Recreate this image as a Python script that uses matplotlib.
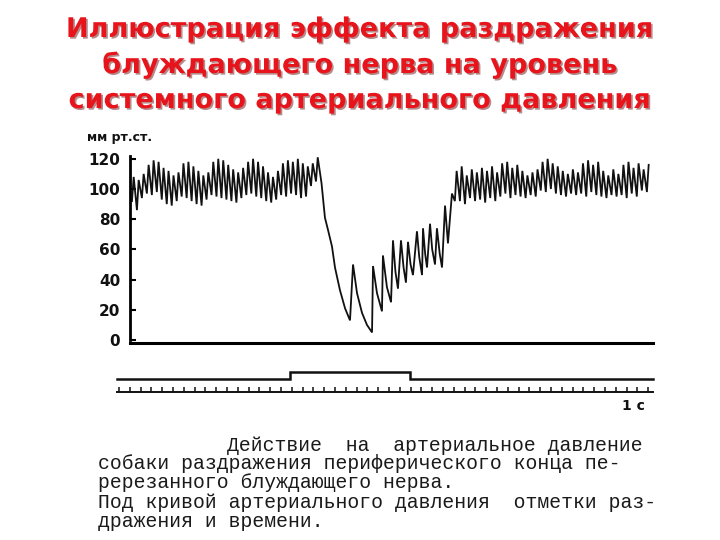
import numpy as np
import matplotlib
matplotlib.use("Agg")
import matplotlib.pyplot as plt
import matplotlib.patheffects as pe

# ---------------- data ----------------
# time in seconds (1 time mark = 1 s), pressure in mm Hg
title_lines = ["Иллюстрация эффекта раздражения",
               "блуждающего нерва на уровень",
               "системного артериального давления"]
y_label = "мм рт.ст."
ytick_vals = [0, 20, 40, 60, 80, 100, 120]

# before stimulation: pulse waves (peak / trough of each beat)
seg1_start, seg1_end = 1.2, 18.7
seg1_peaks = [108, 106, 110, 116, 119, 118, 114, 112, 109, 111,
              117, 118, 115, 112, 109, 111, 118, 120, 119, 116,
              113, 111, 114, 118, 120, 118, 115, 111, 108, 112,
              117, 119, 118, 120, 117, 115, 117, 121]
seg1_troughs = [92, 86, 94, 97, 96, 98, 93, 90, 89, 92,
                95, 94, 92, 90, 89, 93, 96, 95, 94, 93,
                92, 91, 94, 96, 97, 95, 94, 92, 91, 93,
                96, 95, 97, 96, 94, 95, 102, 105]

# fall during vagal stimulation and recovery (time, pressure)
fall_t = [18.75, 18.95, 19.07, 19.35, 19.72, 20.00, 20.46, 20.93, 21.39,
          21.67, 22.04, 22.50, 22.96, 23.43,
          23.52, 23.89, 24.35,
          24.44, 24.81, 25.19,
          25.37, 25.60, 25.83,
          26.11, 26.35, 26.57,
          26.76, 27.00, 27.22,
          27.59, 27.80, 28.06,
          28.15, 28.35, 28.52,
          28.80, 29.00, 29.26,
          29.44, 29.70, 29.91,
          30.19, 30.46, 30.83]
fall_v = [104, 90, 81, 73, 62, 48, 33, 21, 13,
          50, 31, 18, 10, 5,
          49, 31, 19,
          56, 35, 25,
          66, 45, 34,
          66, 48, 38,
          65, 50, 43,
          72, 55, 43,
          74, 57, 48,
          77, 60, 50,
          74, 57, 48,
          89, 64, 97]

# after stimulation: pulse waves
seg3_start, seg3_end = 31.1, 49.35
seg3_peaks = [112, 115, 109, 113, 111, 114, 112, 115, 111,
              117, 118, 114, 116, 112, 109, 111, 113,
              118, 120, 117, 115, 112, 110, 113, 111,
              117, 119, 116, 118, 112, 109, 113, 110,
              116, 118, 114, 117, 113, 116]
seg3_troughs = [92, 92, 90, 94, 92, 93, 91, 94, 92,
                95, 97, 94, 96, 95, 94, 96, 95,
                99, 98, 100, 97, 96, 95, 97, 96,
                97, 95, 98, 96, 95, 94, 96, 95,
                96, 94, 97, 95, 99, 98]

# stimulation mark and time marks
stim_on, stim_off = 15.8, 26.9
time_marks = list(range(0, 50))
time_label = "1 с"

caption_lines = [
    "Действие  на  артериальное давление",
    "собаки раздражения периферического конца пе-",
    "ререзанного блуждающего нерва.",
    "Под кривой артериального давления  отметки раз-",
    "дражения и времени.",
]


def beats(start, end, peaks, troughs):
    n = len(peaks)
    period = (end - start) / n
    t, v = [], []
    for i in range(n):
        tb = start + i * period
        t += [tb, tb + 0.35 * period]
        v += [troughs[i], peaks[i]]
    return t, v


t1, v1 = beats(seg1_start, seg1_end, seg1_peaks, seg1_troughs)
t3, v3 = beats(seg3_start, seg3_end, seg3_peaks, seg3_troughs)
trace_t = np.array(t1 + fall_t + t3)
trace_v = np.array(v1 + fall_v + v3)

# ---------------- figure ----------------
fig = plt.figure(figsize=(7.2, 5.4), dpi=100)
fig.patch.set_facecolor("white")

ax = fig.add_axes([100 / 720, 1 - 420 / 540, 570 / 720, 270 / 540])
ax.set_xlim(-1.759, 51.02)
ax.set_ylim(-52.98, 125.83)
ax.patch.set_alpha(0)

ax.plot(trace_t, trace_v, color="#111111", lw=1.3, solid_joinstyle="miter")

# axes lines
for s in ["top", "right"]:
    ax.spines[s].set_visible(False)
ax.spines["left"].set_position(("data", seg1_start - 0.2))
ax.spines["left"].set_bounds(0, 122)
ax.spines["left"].set_linewidth(2.0)
ax.spines["bottom"].set_position(("data", -2.0))
ax.spines["bottom"].set_bounds(seg1_start - 0.2, seg3_end + 0.05)
ax.spines["bottom"].set_linewidth(2.2)
ax.set_xticks([])
ax.set_yticks(ytick_vals)
ax.set_yticklabels([str(v) for v in ytick_vals], fontsize=11,
                   fontweight="bold", family="DejaVu Sans", color="#111111")
ax.tick_params(axis="y", direction="in", length=4, width=1.5, pad=7)

# stimulation mark
base_lvl, raised_lvl = -25.8, -21.2
ax.plot([-0.2, stim_on, stim_on, stim_off, stim_off, seg3_end + 0.05],
        [base_lvl, base_lvl, raised_lvl, raised_lvl, base_lvl, base_lvl],
        color="#111111", lw=1.8, solid_joinstyle="miter")

# time marks
time_lvl = -34.4
ax.plot([-0.2, seg3_end + 0.05], [time_lvl, time_lvl], color="#111111", lw=1.4)
ax.vlines(time_marks, time_lvl, time_lvl + 3.6, color="#111111", lw=1.1)
ax.text(46.6, -43.5, time_label, fontsize=10, fontweight="bold",
        family="DejaVu Sans", ha="left", va="center", color="#111111")

# y unit label
fig.text(87 / 720, 1 - 138 / 540, y_label, fontsize=9, fontweight="bold",
         family="DejaVu Sans", ha="left", va="center", color="#111111")

# title
title_baselines = [37, 73, 108]
for line, yb in zip(title_lines, title_baselines):
    fig.text(0.5, 1 - yb / 540, line, ha="center", va="baseline",
             fontsize=19.5, fontweight="bold", family="DejaVu Sans",
             color="#E8141C",
             path_effects=[pe.withSimplePatchShadow(offset=(1.2, -1.2),
                                                    shadow_rgbFace="#5a0000",
                                                    alpha=0.45)])

# caption
cap_pos = [(227, 451), (98, 469), (98, 488), (98, 508), (98, 527)]
for line, (xp, yb) in zip(caption_lines, cap_pos):
    fig.text(xp / 720, 1 - yb / 540, line, ha="left", va="baseline",
             fontsize=14.2, family="Liberation Mono", color="#1a1a1a")

fig.savefig("out.png", dpi=100, facecolor="white")
